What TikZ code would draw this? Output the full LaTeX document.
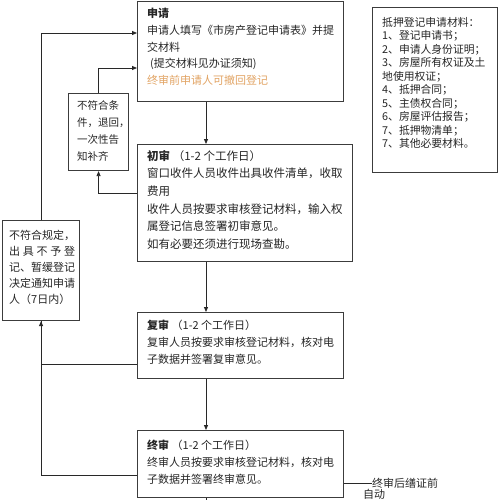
\documentclass[tikz,border=0pt]{standalone}
\usepackage{fontspec}
\setmainfont{Noto Sans CJK SC}
\usetikzlibrary{arrows.meta}
\definecolor{orangec}{RGB}{226,164,100}
\definecolor{boxc}{RGB}{60,60,60}
\definecolor{linec}{RGB}{40,40,40}
\begin{document}
\begin{tikzpicture}[x=1pt,y=-1pt,
  box/.style={draw=boxc, line width=1.1pt, inner sep=0pt, anchor=north west},
  txt/.style={anchor=north west, inner sep=0pt, align=left, text=black!85},
  conn/.style={draw=linec, line width=0.8pt},
  arr/.style={conn, -{Triangle[length=5pt,width=4pt]}}]
\useasboundingbox (0,0) rectangle (500,500);
\fill[white] (0,0) rectangle (500,500);
% boxes
\node[box, minimum width=206pt, minimum height=100pt] (sq) at (137,1) {};
\node[box, minimum width=215pt, minimum height=117pt] (cs) at (137,144) {};
\node[box, minimum width=206pt, minimum height=66pt] (fs) at (137,312) {};
\node[box, minimum width=206pt, minimum height=67pt] (zs) at (137,430) {};
\node[box, minimum width=125pt, minimum height=165pt] (mat) at (372,7) {};
\node[box, minimum width=60pt, minimum height=77pt] (ncond) at (68,93) {};
\node[box, minimum width=77pt, minimum height=100pt] (nreg) at (2,220) {};
% texts
\node[txt, font=\fontsize{11}{16.7}\selectfont] (sqt) at (147,8)
  {\textbf{申请}\\申请人填写《市房产登记申请表》并提\\交材料\\\hspace*{3pt}(提交材料见办证须知)\\{\color{orangec}终审前申请人可撤回登记}};
\node[txt, font=\fontsize{11.5}{17.6}\selectfont] (cst) at (147,150)
  {\textbf{初审} （1-2 个工作日）\\窗口收件人员收件出具收件清单，收取\\费用\\收件人员按要求审核登记材料，输入权\\属登记信息签署初审意见。\\如有必要还须进行现场查勘。};
\node[txt, font=\fontsize{11}{17}\selectfont] (fst) at (147,320)
  {\textbf{复审} （1-2 个工作日）\\复审人员按要求审核登记材料，核对电\\子数据并签署复审意见。};
\node[txt, font=\fontsize{11}{17}\selectfont] (zst) at (147,440)
  {\textbf{终审} （1-2 个工作日）\\终审人员按要求审核登记材料，核对电\\子数据并签署终审意见。};
\node[txt, font=\fontsize{10.8}{13.5}\selectfont] (matt) at (382,17)
  {抵押登记申请材料：\\1、登记申请书；\\2、申请人身份证明；\\3、房屋所有权证及土\\地使用权证；\\4、抵押合同；\\5、主债权合同；\\6、房屋评估报告；\\7、抵押物清单；\\7、其他必要材料。};
\node[txt, font=\fontsize{10.5}{17.3}\selectfont] (ncondt) at (77,100)
  {不符合条\\件，退回，\\一次性告\\知补齐};
\node[txt, font=\fontsize{11}{16}\selectfont] (nregt) at (9,230)
  {不符合规定，\\\makebox[66pt][s]{出\hfill 具\hfill 不\hfill 予\hfill 登}\\记、暂缓登记\\决定通知申请\\人（7日内）};
\node[anchor=west, inner sep=0pt, font=\fontsize{11}{13}\selectfont, text=black!85] (zh) at (372,483) {终审后缮证前};
\node[anchor=west, inner sep=0pt, font=\fontsize{11}{13}\selectfont, text=black!85] (zd) at (363,494) {自动};
% connectors
\coordinate (mx) at (206,0);
\coordinate (bot) at (206,500);
\draw[arr] (sq.south -| mx) -- (cs.north -| mx);
\draw[arr] (cs.south -| mx) -- (fs.north -| mx);
\draw[arr] (fs.south -| mx) -- (zs.north -| mx);
\draw[conn] (zs.south -| mx) -- (bot);
\draw[arr] ([yshift=-49pt]cs.north west) -| (ncond.south);
\draw[arr] (ncond.north) |- ([yshift=-67pt]sq.north west);
\draw[arr] (nreg.north) |- ([yshift=-32pt]sq.north west);
\draw[conn] ([yshift=-52pt]fs.north west) -| (nreg.south);
\draw[arr] ([yshift=-45pt]zs.north west) -| (nreg.south);
\draw[conn] ([yshift=-53pt]zs.north east) -- (zh.west);
\end{tikzpicture}
\end{document}
